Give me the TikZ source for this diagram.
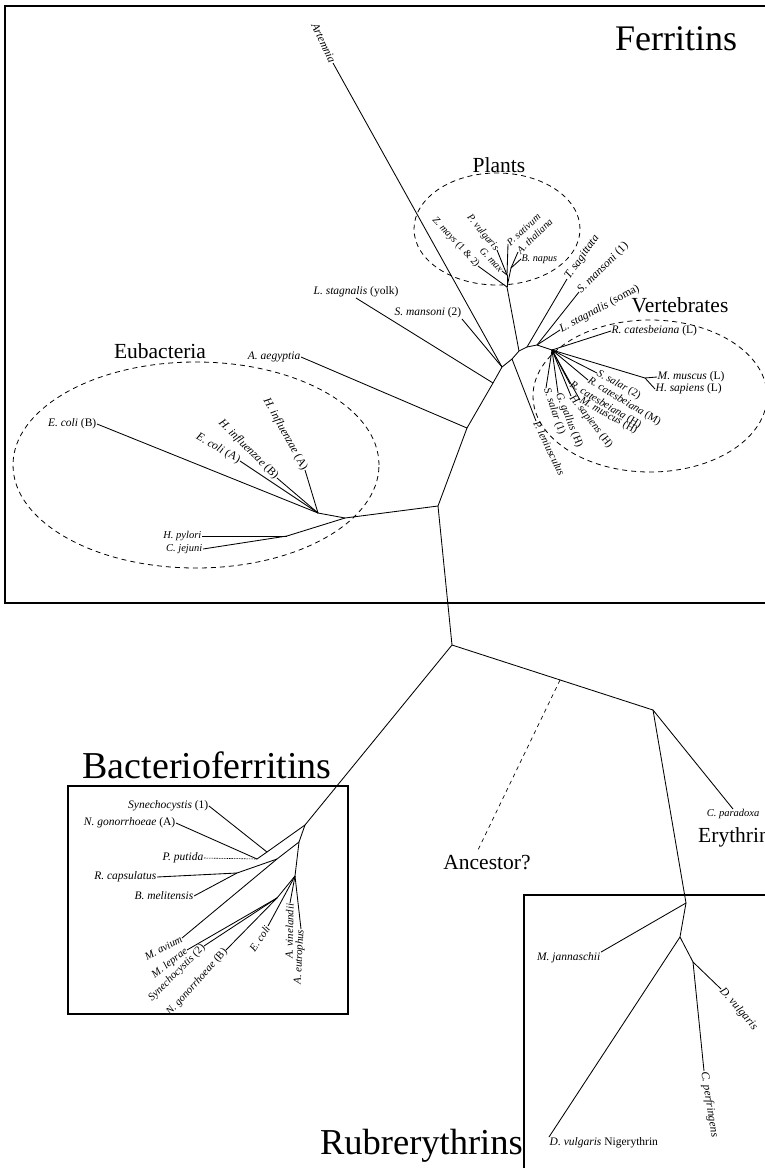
\documentclass[tikz,border=0pt]{standalone}
\usepackage{fontspec}
\setmainfont{Liberation Serif}
\begin{document}
\begin{tikzpicture}[x=1pt,y=-1pt,
  br/.style={line width=0.85pt},
  lab/.style={font=\fontsize{11.5}{13}\selectfont, inner sep=0.5pt},
  mlab/.style={font=\fontsize{10.8}{12}\selectfont, inner sep=0.5pt},
  plab/.style={font=\fontsize{10.2}{11}\selectfont, inner sep=0.3pt},
  slab/.style={font=\fontsize{10.5}{12}\selectfont, inner sep=0.5pt},
  big/.style={font=\fontsize{21.5}{24}\selectfont, inner sep=0pt},
  huge/.style={font=\fontsize{38}{40}\selectfont, inner sep=0pt},
  grp/.style={line width=0.8pt, dash pattern=on 5pt off 4pt},
  anc/.style={line width=0.7pt, dash pattern=on 4pt off 4pt},
  frame/.style={line width=1.2pt},
]
\useasboundingbox (0,0) rectangle (764,1168);
\fill[white] (0,0) rectangle (764,1168);

% ---------- boxes ----------
\draw[line width=2pt] (790,6) -- (5,6) -- (5,603) -- (790,603);
\draw[frame] (68,786) rectangle (348,1014);
\draw[frame] (790,895) -- (524,895) -- (524,1180);

% ---------- group titles ----------
\node[huge, anchor=base west, font=\fontsize{36}{40}\selectfont] (tFer) at (615,50) {Ferritins};
\node[big, anchor=base] (tPla) at (499,172) {Plants};
\node[big, anchor=base] (tVer) at (680,312) {Vertebrates};
\node[big, anchor=base] (tEub) at (160,358) {Eubacteria};
\node[big, anchor=base] (tAnc) at (487,869) {Ancestor?};
\node[big, anchor=base west] (tEry) at (698,842) {Erythrin};
\node[huge, anchor=base] (tBac) at (207,778) {Bacterioferritins};
\node[huge, anchor=base east, font=\fontsize{36.5}{40}\selectfont] (tRub) at (523,1154) {Rubrerythrins};

% ---------- dashed groups ----------
\draw[grp] (497,229) ellipse [x radius=83pt, y radius=56pt];
\draw[grp] (650,396) ellipse [x radius=117pt, y radius=76pt];
\draw[grp] (196,465) ellipse [x radius=183pt, y radius=103pt];

% ---------- internal coordinates ----------
\coordinate (R1) at (438,506);
\coordinate (Ja) at (467,428);
\coordinate (Jl) at (493,383);
\coordinate (Jm) at (502,367);
\coordinate (H1) at (512,359);
\coordinate (H2) at (519,351);
\coordinate (H3) at (527,347);
\coordinate (H4) at (537,345);
\coordinate (V0) at (552,350);
\coordinate (Vm) at (645,378);
\coordinate (P0) at (507,287);
\coordinate (P1) at (507,275);
\coordinate (P2) at (511,268);
\coordinate (E0) at (345,518);
\coordinate (E1) at (318,513);
\coordinate (E2) at (287,536);
\coordinate (B0) at (452,645);
\coordinate (C0) at (653,710);
\coordinate (Anc) at (560,680);
\coordinate (AncE) at (477,852);
\coordinate (Rb0) at (686,903);
\coordinate (R2) at (680,937);
\coordinate (R3) at (693,962);
\coordinate (BF0) at (305,825);
\coordinate (A3) at (299,842);
\coordinate (Ja1) at (267,852);
\coordinate (Jb) at (257,859);
\coordinate (A2) at (277,859);
\coordinate (Jc) at (237,873);
\coordinate (A4) at (295,876);
\coordinate (A5) at (277,898);

% ---------- ferritin labels ----------
\node[lab, rotate=-65, anchor=east] (art) at (333,63) {\textit{Artemnia}};
\node[lab, anchor=south] (lsy) at (356,298) {\textit{L. stagnalis} (yolk)};
\node[lab, anchor=south east] (sm2) at (462,319) {\textit{S. mansoni} (2)};
\node[lab, anchor=east] (aeg) at (301,357) {\textit{A. aegyptia}};
\node[plab, rotate=-47, anchor=east] (zma) at (478,266) {\textit{Z. mays} (1 \& 2)};
\node[plab, rotate=-50, anchor=east] (pvu) at (497,250) {\textit{P. vulgaris}};
\node[plab, rotate=-47, anchor=east] (gma) at (502,271) {\textit{G. max}};
\node[plab, rotate=43, anchor=west] (psa) at (508,244) {\textit{P. sativum}};
\node[plab, rotate=44, anchor=west] (ath) at (518,252) {\textit{A. thaliana}};
\node[plab, anchor=west] (bna) at (521,259) {\textit{B. napus}};
\node[lab, rotate=55, anchor=west] (tsa) at (567,279) {\textit{T. sagittata}};
\node[lab, rotate=45, anchor=west] (sm1) at (579,292) {\textit{S. mansoni} (1)};
\node[lab, rotate=28, anchor=west] (lss) at (560,330) {\textit{L. stagnalis} (soma)};
\node[lab, anchor=west] (rcL) at (611,331) {\textit{R. catesbeiana} (L)};
\node[lab, anchor=west] (mmL) at (657,377) {\textit{M. muscus} (L)};
\node[lab, anchor=west] (hsL) at (655,389) {\textit{H. sapiens} (L)};
\node[mlab, rotate=-29, anchor=west] (ss2) at (597,373) {\textit{S. salar} (2)};
\node[mlab, rotate=-31, anchor=west] (rcM) at (588,380) {\textit{R. catesbeiana} (M)};
\node[mlab, rotate=-31, anchor=west] (rcH) at (570,384) {\textit{R. catesbeiana} (H)};
\node[mlab, rotate=-29, anchor=west] (mmH) at (580,400) {\textit{M. muscus} (H)};
\node[mlab, rotate=-52, anchor=west] (hsH) at (571,396) {\textit{H. sapiens} (H)};
\node[mlab, rotate=-68, anchor=west] (ggH) at (558,393) {\textit{G. gallus} (H)};
\node[mlab, rotate=-71, anchor=west] (ss1) at (546,388) {\textit{S. salar} (1)};
\node[mlab, rotate=-64, anchor=west] (ple) at (536,421) {\textit{P. leniusculus}};
\node[lab, anchor=east] (ecB) at (97,424) {\textit{E. coli} (B)};
\node[lab, rotate=-30, anchor=east] (ecA) at (240,461) {\textit{E. coli} (A)};
\node[lab, rotate=-45, anchor=east] (hiB) at (277,478) {\textit{H. influenzae} (B)};
\node[lab, rotate=-61, anchor=east] (hiA) at (305,470) {\textit{H. influenzae} (A)};
\node[slab, anchor=east] (hpy) at (202,536) {\textit{H. pylori}};
\node[slab, anchor=east] (cje) at (203,549) {\textit{C. jejuni}};

% ---------- ferritin branches ----------
\draw[br] (B0) -- (R1) -- (Ja) -- (Jl) -- (Jm) -- (H1) -- (H2) -- (H3) -- (H4) -- (V0);
\draw[br] (art.east) -- (Jm);
\draw[br] (sm2.south east) -- (Jm);
\draw[br] (lsy.south) -- (Jl);
\draw[br] (aeg.east) -- (Ja);
\draw[br] (H2) -- (P0);
\draw[br] (P0) -- (P1); \draw[br] (P0) -- (P2);
\draw[br] (P0) -- (zma.east);
\draw[br] (P1) -- (pvu.east); \draw[br] (P1) -- (gma.east); \draw[br] (P1) -- (psa.west);
\draw[br] (P2) -- (ath.west); \draw[br] (P2) -- (bna.west);
\draw[br] (H3) -- (tsa.west);
\draw[br] (H4) -- (sm1.west);
\draw[br] (H4) -- (lss.west);
\draw[br] (H1) -- (ple.west);
\draw[br] (V0) -- (rcL.west);
\draw[br] (V0) -- (Vm) -- (mmL.west); \draw[br] (Vm) -- (hsL.west);
\foreach \n in {ss2,rcM,rcH,mmH,hsH,ggH,ss1} \draw[br] (V0) -- (\n.west);
\draw[br] (R1) -- (E0) -- (E1);
\draw[br] (E0) -- (E2);
\foreach \n in {ecB,ecA,hiB,hiA} \draw[br] (E1) -- (\n.east);
\draw[br] (E2) -- (hpy.east); \draw[br] (E2) -- (cje.east);

% ---------- lower backbone ----------
\draw[br] (B0) -- (C0);
\draw[anc] (Anc) -- (AncE);
\node[slab, anchor=north] (cpa) at (733,809) {\textit{C. paradoxa}};
\draw[br] (C0) -- (cpa.north);
\draw[br] (C0) -- (Rb0);

% ---------- rubrerythrins ----------
\node[lab, anchor=east] (mja) at (601,958) {\textit{M. jannaschii}};
\node[lab, anchor=north west] (nig) at (549,1137) {\textit{D. vulgaris} Nigerythrin};
\node[lab, rotate=-49, anchor=west] (dvu) at (721,989) {\textit{D. vulgaris}};
\node[lab, rotate=-81, anchor=west] (cpe) at (704,1071) {\textit{C. perfringens}};
\draw[br] (Rb0) -- (mja.north east);
\draw[br] (Rb0) -- (R2) -- (R3);
\draw[br] (R2) -- (nig.north west);
\draw[br] (R3) -- (dvu.west);
\draw[br] (R3) -- (cpe.west);

% ---------- bacterioferritins ----------
\node[lab, anchor=east] (sy1) at (209,806) {\textit{Synechocystis} (1)};
\node[lab, anchor=east] (ngA) at (176,823) {\textit{N. gonorrhoeae} (A)};
\node[lab, anchor=east] (ppu) at (204,858) {\textit{P. putida}};
\node[lab, anchor=east] (rca) at (157,877) {\textit{R. capsulatus}};
\node[lab, anchor=east] (bme) at (194,896) {\textit{B. melitensis}};
\node[mlab, rotate=28, anchor=east] (mav) at (182,938) {\textit{M. avium}};
\node[mlab, rotate=38, anchor=east] (mle) at (187,950) {\textit{M. leprae}};
\node[mlab, rotate=45, anchor=east] (sy2) at (204,946) {\textit{Synechocystis} (2)};
\node[mlab, rotate=48, anchor=east] (ngB) at (226,950) {\textit{N. gonorrhoeae} (B)};
\node[mlab, rotate=56, anchor=east] (eco) at (268,926) {\textit{E. coli}};
\node[mlab, rotate=89, anchor=east] (avi) at (290,903) {\textit{A. vinelandii}};
\node[mlab, rotate=87, anchor=east] (aeu) at (301,929) {\textit{A. eutrophus}};
\draw[br] (B0) -- (BF0) -- (A3) -- (A4);
\draw[br] (BF0) -- (Ja1) -- (Jb);
\draw[br] (Ja1) -- (sy1.east);
\draw[br] (Jb) -- (ngA.east);
\draw[line width=0.6pt, dash pattern=on 1.5pt off 1pt] (ppu.east) -- (Jb);
\draw[br] (A3) -- (A2) -- (mav.east);
\draw[br] (A2) -- (Jc) -- (rca.east);
\draw[br] (Jc) -- (bme.east);
\draw[br] (A4) -- (A5);
\draw[br] (A5) -- (mle.east); \draw[br] (A5) -- (sy2.east); \draw[br] (A5) -- (ngB.east);
\draw[br] (A4) -- (eco.east);
\draw[br] (A4) -- (avi.east); \draw[br] (A4) -- (aeu.east);
\end{tikzpicture}
\end{document}
